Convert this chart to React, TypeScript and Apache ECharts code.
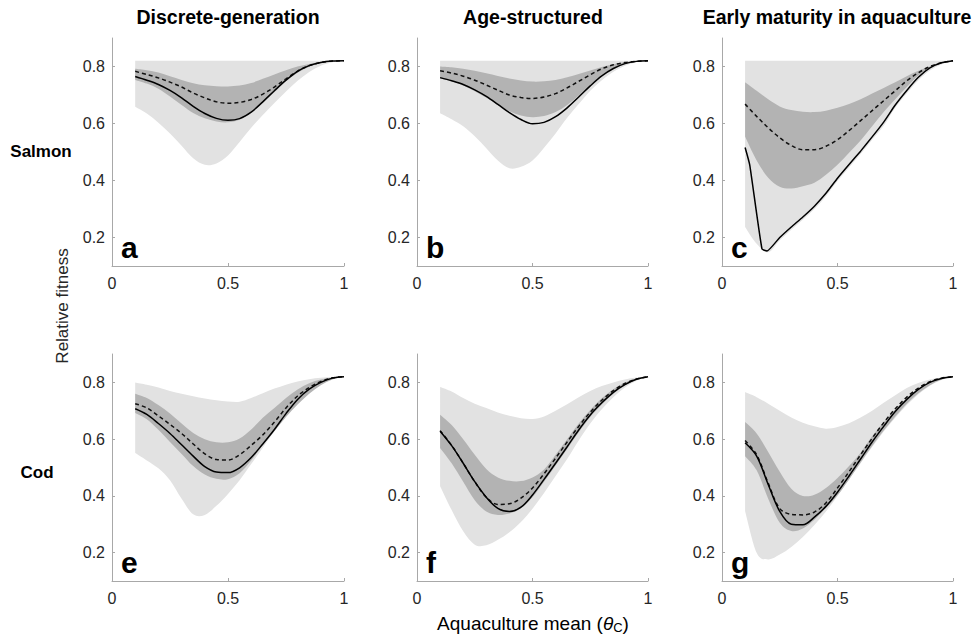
import React, { useEffect, useRef } from "react";
import * as echarts from "echarts";

// ---------- data ----------
const X = [0.1, 0.15, 0.2, 0.25, 0.3, 0.35, 0.4, 0.45, 0.5, 0.55, 0.6, 0.65, 0.7, 0.75, 0.8, 0.85, 0.9, 0.95, 1.0];

const COL_TITLES = ["Discrete-generation", "Age-structured", "Early maturity in aquaculture"];
const ROW_TITLES = ["Salmon", "Cod"];
const Y_TICKS = [0.2, 0.4, 0.6, 0.8];
const Y_TITLE = "Relative fitness";

const FLAT = [0.82, 0.82, 0.82, 0.82, 0.82, 0.82, 0.82, 0.82, 0.82, 0.82, 0.82, 0.82, 0.82, 0.82, 0.82, 0.82, 0.82, 0.82, 0.82];

// panel a
const A_LIGHT_LO = [0.659, 0.635, 0.603, 0.565, 0.522, 0.478, 0.455, 0.46, 0.488, 0.535, 0.585, 0.63, 0.672, 0.712, 0.75, 0.781, 0.803, 0.815, 0.82];
const A_LIGHT_HI = FLAT;
const A_DARK_LO = [0.753, 0.74, 0.722, 0.695, 0.665, 0.637, 0.618, 0.607, 0.604, 0.613, 0.64, 0.675, 0.71, 0.748, 0.778, 0.799, 0.812, 0.818, 0.82];
const A_DARK_HI = [0.792, 0.787, 0.779, 0.766, 0.753, 0.741, 0.734, 0.731, 0.73, 0.733, 0.742, 0.757, 0.772, 0.787, 0.8, 0.809, 0.815, 0.818, 0.82];
const A_DASH = [0.783, 0.772, 0.76, 0.745, 0.728, 0.707, 0.69, 0.676, 0.671, 0.674, 0.684, 0.703, 0.728, 0.757, 0.784, 0.803, 0.814, 0.819, 0.82];
const A_SOLID = [0.765, 0.752, 0.737, 0.716, 0.69, 0.66, 0.635, 0.618, 0.611, 0.617, 0.64, 0.676, 0.715, 0.752, 0.783, 0.803, 0.814, 0.819, 0.82];

// panel b
const B_LIGHT_LO = [0.636, 0.615, 0.59, 0.555, 0.513, 0.47, 0.443, 0.448, 0.47, 0.515, 0.565, 0.62, 0.668, 0.715, 0.752, 0.782, 0.803, 0.815, 0.82];
const B_LIGHT_HI = FLAT;
const B_DARK_LO = [0.758, 0.748, 0.733, 0.713, 0.69, 0.665, 0.643, 0.628, 0.622, 0.626, 0.64, 0.665, 0.698, 0.735, 0.77, 0.795, 0.81, 0.818, 0.82];
const B_DARK_HI = [0.8, 0.797, 0.792, 0.785, 0.776, 0.767, 0.758, 0.751, 0.747, 0.748, 0.753, 0.762, 0.774, 0.786, 0.798, 0.808, 0.815, 0.818, 0.82];
const B_DASH = [0.785, 0.777, 0.766, 0.752, 0.735, 0.717, 0.7, 0.691, 0.688, 0.693, 0.705, 0.725, 0.748, 0.771, 0.792, 0.806, 0.814, 0.818, 0.82];
const B_SOLID = [0.761, 0.75, 0.737, 0.718, 0.695, 0.667, 0.638, 0.614, 0.599, 0.604, 0.624, 0.655, 0.693, 0.732, 0.767, 0.793, 0.81, 0.818, 0.82];

// panel c
const C_LIGHT_LO = [0.237, 0.178, 0.148, 0.19, 0.227, 0.262, 0.3, 0.345, 0.398, 0.446, 0.493, 0.543, 0.592, 0.655, 0.706, 0.752, 0.786, 0.807, 0.82];
const C_LIGHT_HI = FLAT;
const C_DARK_LO = [0.554, 0.47, 0.41, 0.378, 0.372, 0.38, 0.392, 0.42, 0.455, 0.497, 0.54, 0.59, 0.64, 0.685, 0.728, 0.768, 0.797, 0.814, 0.82];
const C_DARK_HI = [0.745, 0.715, 0.685, 0.66, 0.647, 0.641, 0.64, 0.645, 0.655, 0.668, 0.685, 0.705, 0.725, 0.745, 0.766, 0.785, 0.8, 0.812, 0.82];
const C_DASH = [0.668, 0.625, 0.585, 0.55, 0.523, 0.508, 0.508, 0.52, 0.543, 0.575, 0.61, 0.645, 0.68, 0.715, 0.75, 0.778, 0.8, 0.813, 0.82];
const C_SOLID_X = [0.1, 0.12, 0.173, 0.195, 0.25, 0.3, 0.35, 0.4, 0.45, 0.5, 0.55, 0.6, 0.65, 0.7, 0.75, 0.8, 0.85, 0.9, 0.95, 1.0];
const C_SOLID = [0.516, 0.455, 0.16, 0.153, 0.2, 0.237, 0.272, 0.31, 0.355, 0.408, 0.456, 0.503, 0.553, 0.605, 0.665, 0.716, 0.762, 0.795, 0.813, 0.82];

// panel e
const E_LIGHT_LO = [0.551, 0.525, 0.497, 0.455, 0.39, 0.335, 0.333, 0.365, 0.407, 0.455, 0.512, 0.57, 0.628, 0.68, 0.727, 0.765, 0.793, 0.812, 0.82];
const E_LIGHT_HI = [0.8, 0.792, 0.782, 0.77, 0.76, 0.751, 0.743, 0.737, 0.733, 0.732, 0.745, 0.762, 0.778, 0.792, 0.803, 0.811, 0.816, 0.819, 0.82];
const E_DARK_LO = [0.692, 0.67, 0.633, 0.59, 0.548, 0.505, 0.475, 0.46, 0.459, 0.48, 0.525, 0.578, 0.628, 0.678, 0.722, 0.76, 0.79, 0.81, 0.82];
const E_DARK_HI = [0.76, 0.745, 0.72, 0.69, 0.655, 0.622, 0.6, 0.589, 0.589, 0.602, 0.634, 0.675, 0.71, 0.745, 0.775, 0.797, 0.81, 0.817, 0.82];
const E_DASH = [0.725, 0.71, 0.682, 0.652, 0.62, 0.583, 0.548, 0.528, 0.526, 0.545, 0.578, 0.615, 0.66, 0.71, 0.752, 0.782, 0.803, 0.816, 0.82];
const E_SOLID = [0.707, 0.687, 0.655, 0.62, 0.58, 0.54, 0.503, 0.484, 0.482, 0.499, 0.535, 0.583, 0.634, 0.69, 0.74, 0.776, 0.8, 0.815, 0.82];

// panel f
const F_LIGHT_LO = [0.434, 0.35, 0.275, 0.228, 0.226, 0.245, 0.272, 0.308, 0.355, 0.41, 0.47, 0.53, 0.595, 0.655, 0.705, 0.748, 0.782, 0.806, 0.82];
const F_LIGHT_HI = [0.784, 0.768, 0.745, 0.725, 0.71, 0.694, 0.682, 0.674, 0.671, 0.68, 0.7, 0.723, 0.748, 0.77, 0.787, 0.8, 0.81, 0.817, 0.82];
const F_DARK_LO = [0.569, 0.515, 0.45, 0.385, 0.345, 0.333, 0.338, 0.356, 0.395, 0.45, 0.507, 0.565, 0.624, 0.678, 0.722, 0.76, 0.789, 0.81, 0.82];
const F_DARK_HI = [0.686, 0.65, 0.6, 0.545, 0.495, 0.465, 0.453, 0.452, 0.465, 0.493, 0.545, 0.6, 0.655, 0.703, 0.744, 0.776, 0.8, 0.814, 0.82];
const F_DASH = [0.63, 0.578, 0.515, 0.45, 0.395, 0.37, 0.372, 0.392, 0.428, 0.478, 0.533, 0.59, 0.645, 0.695, 0.737, 0.771, 0.796, 0.812, 0.82];
const F_SOLID = [0.628, 0.577, 0.515, 0.45, 0.395, 0.356, 0.345, 0.36, 0.403, 0.458, 0.515, 0.573, 0.632, 0.685, 0.728, 0.765, 0.792, 0.811, 0.82];

// panel g
const G_LIGHT_LO = [0.346, 0.2, 0.176, 0.193, 0.22, 0.255, 0.297, 0.345, 0.4, 0.458, 0.515, 0.572, 0.627, 0.675, 0.72, 0.758, 0.788, 0.808, 0.82];
const G_LIGHT_HI = [0.766, 0.748, 0.725, 0.7, 0.676, 0.658, 0.645, 0.637, 0.643, 0.656, 0.676, 0.7, 0.728, 0.755, 0.78, 0.798, 0.81, 0.817, 0.82];
const G_DARK_LO = [0.54, 0.49, 0.39, 0.305, 0.276, 0.285, 0.316, 0.357, 0.402, 0.458, 0.518, 0.576, 0.63, 0.68, 0.725, 0.762, 0.79, 0.81, 0.82];
const G_DARK_HI = [0.66, 0.62, 0.555, 0.485, 0.425, 0.4, 0.404, 0.428, 0.463, 0.505, 0.552, 0.61, 0.66, 0.705, 0.742, 0.773, 0.796, 0.812, 0.82];
const G_DASH = [0.595, 0.545, 0.445, 0.355, 0.335, 0.333, 0.343, 0.375, 0.428, 0.485, 0.545, 0.603, 0.658, 0.707, 0.748, 0.78, 0.802, 0.815, 0.82];
const G_SOLID = [0.587, 0.54, 0.44, 0.345, 0.3, 0.298, 0.325, 0.363, 0.413, 0.47, 0.53, 0.59, 0.645, 0.697, 0.74, 0.775, 0.8, 0.814, 0.82];

const PANELS = [
  { letter: "a", row: 0, col: 0, lightLo: A_LIGHT_LO, lightHi: A_LIGHT_HI, darkLo: A_DARK_LO, darkHi: A_DARK_HI, dash: A_DASH, solidX: X, solid: A_SOLID },
  { letter: "b", row: 0, col: 1, lightLo: B_LIGHT_LO, lightHi: B_LIGHT_HI, darkLo: B_DARK_LO, darkHi: B_DARK_HI, dash: B_DASH, solidX: X, solid: B_SOLID },
  { letter: "c", row: 0, col: 2, lightLo: C_LIGHT_LO, lightHi: C_LIGHT_HI, darkLo: C_DARK_LO, darkHi: C_DARK_HI, dash: C_DASH, solidX: C_SOLID_X, solid: C_SOLID },
  { letter: "e", row: 1, col: 0, lightLo: E_LIGHT_LO, lightHi: E_LIGHT_HI, darkLo: E_DARK_LO, darkHi: E_DARK_HI, dash: E_DASH, solidX: X, solid: E_SOLID },
  { letter: "f", row: 1, col: 1, lightLo: F_LIGHT_LO, lightHi: F_LIGHT_HI, darkLo: F_DARK_LO, darkHi: F_DARK_HI, dash: F_DASH, solidX: X, solid: F_SOLID },
  { letter: "g", row: 1, col: 2, lightLo: G_LIGHT_LO, lightHi: G_LIGHT_HI, darkLo: G_DARK_LO, darkHi: G_DARK_HI, dash: G_DASH, solidX: X, solid: G_SOLID },
];

// ---------- layout / style ----------
const COL_LEFT = [112, 417, 722];
const COL_W = [232, 231, 231];
const ROW_TOP = [38, 354];
const ROW_H = [228, 227];
const FONT = "'Liberation Sans', Arial, Helvetica, sans-serif";
const LIGHT = "#e2e2e2";
const DARK = "#b3b3b3";
const AXIS = "#a8a8a8";
const TXT = "#262626";
const LINE_SMOOTH = 0.33;
const T = 1 / 6; // curve tension used for band outlines (Catmull-Rom)

const pair = (xs: number[], ys: number[]) => xs.map((x, k) => [x, ys[k]]);

// cubic segments through pixel points (drawing-level smoothing only)
function curveThrough(pts: number[][]): string {
  let d = "";
  const n = pts.length;
  for (let i = 0; i < n - 1; i++) {
    const p0 = pts[i - 1] || pts[i];
    const p1 = pts[i];
    const p2 = pts[i + 1];
    const p3 = pts[i + 2] || pts[i + 1];
    const c1x = p1[0] + (p2[0] - p0[0]) * T;
    const c1y = p1[1] + (p2[1] - p0[1]) * T;
    const c2x = p2[0] - (p3[0] - p1[0]) * T;
    const c2y = p2[1] - (p3[1] - p1[1]) * T;
    d += ` C ${c1x.toFixed(2)} ${c1y.toFixed(2)} ${c2x.toFixed(2)} ${c2y.toFixed(2)} ${p2[0].toFixed(2)} ${p2[1].toFixed(2)}`;
  }
  return d;
}

function bandSeries(i: number, lo: number[], hi: number[], color: string) {
  return {
    type: "custom",
    coordinateSystem: "cartesian2d",
    xAxisIndex: i,
    yAxisIndex: i,
    silent: true,
    data: X.map((x, k) => [x, lo[k], hi[k]]),
    renderItem: (params: any, api: any) => {
      if (params.dataIndex !== 0) return null;
      const up = X.map((x, k) => api.coord([x, hi[k]]));
      const dn = X.map((x, k) => api.coord([x, lo[k]])).reverse();
      const d = `M ${up[0][0].toFixed(2)} ${up[0][1].toFixed(2)}` + curveThrough(up) +
        ` L ${dn[0][0].toFixed(2)} ${dn[0][1].toFixed(2)}` + curveThrough(dn) + " Z";
      return { type: "path", shape: { pathData: d }, style: { fill: color, stroke: null } };
    },
  };
}

function buildOption() {
  const grid: any[] = [];
  const xAxis: any[] = [];
  const yAxis: any[] = [];
  const series: any[] = [];
  const graphic: any[] = [];

  PANELS.forEach((p, i) => {
    const left = COL_LEFT[p.col];
    const top = ROW_TOP[p.row];
    const w = COL_W[p.col];
    const h = ROW_H[p.row];
    grid.push({ left, top, width: w, height: h, containLabel: false });
    xAxis.push({
      type: "value", gridIndex: i, min: 0, max: 1, interval: 0.5, z: 10,
      axisLine: { show: true, onZero: false, lineStyle: { color: AXIS, width: 1 } },
      axisTick: { show: true, inside: true, length: 3, lineStyle: { color: AXIS } },
      splitLine: { show: false },
      axisLabel: { color: TXT, fontSize: 16, fontFamily: FONT, margin: 9 },
    });
    yAxis.push({
      type: "value", gridIndex: i, min: 0.1, max: 0.9, z: 10,
      axisLine: { show: true, onZero: false, lineStyle: { color: AXIS, width: 1 } },
      axisTick: { show: true, inside: true, length: 3, lineStyle: { color: AXIS }, customValues: Y_TICKS },
      splitLine: { show: false },
      axisLabel: { color: TXT, fontSize: 16, fontFamily: FONT, margin: 7, customValues: Y_TICKS, formatter: (v: number) => v.toFixed(1) },
    });
    series.push(bandSeries(i, p.lightLo, p.lightHi, LIGHT));
    series.push(bandSeries(i, p.darkLo, p.darkHi, DARK));
    const common = { xAxisIndex: i, yAxisIndex: i, symbol: "none", silent: true, smooth: LINE_SMOOTH };
    series.push({ ...common, type: "line", data: pair(X, p.dash), lineStyle: { color: "#111", width: 1.5, type: [4, 3] } });
    series.push({ ...common, type: "line", smooth: p.solidX === X ? LINE_SMOOTH : 0.15, data: pair(p.solidX, p.solid), lineStyle: { color: "#000", width: 1.5 } });

    graphic.push({
      type: "text", x: left + 9, y: top + h - 19, z: 100,
      style: { text: p.letter, font: `bold 30px ${FONT}`, fill: "#000", textAlign: "left", textVerticalAlign: "middle" },
    });
  });

  const titleX = [228, 533, 837];
  COL_TITLES.forEach((t, c) => {
    graphic.push({ type: "text", x: titleX[c], y: 17, z: 100, style: { text: t, font: `bold 19.5px ${FONT}`, fill: "#000", textAlign: "center", textVerticalAlign: "middle" } });
  });
  const rowX = [41, 37];
  const rowY = [151, 472];
  ROW_TITLES.forEach((t, r) => {
    graphic.push({ type: "text", x: rowX[r], y: rowY[r], z: 100, style: { text: t, font: `bold 17px ${FONT}`, fill: "#000", textAlign: "center", textVerticalAlign: "middle" } });
  });
  graphic.push({
    type: "text", x: 62, y: 306, rotation: Math.PI / 2, z: 100,
    style: { text: Y_TITLE, font: `17px ${FONT}`, fill: TXT, textAlign: "center", textVerticalAlign: "middle" },
  });
  graphic.push({
    type: "text", x: 533, y: 623, z: 100,
    style: {
      text: "{n|Aquaculture mean (}{t|θ}{s|C}{n|)}",
      textAlign: "center", textVerticalAlign: "middle",
      rich: {
        n: { fontSize: 19, fontFamily: FONT, color: TXT, lineHeight: 20 },
        t: { fontSize: 19, fontFamily: FONT, color: TXT, fontStyle: "italic", lineHeight: 20 },
        s: { fontSize: 13, fontFamily: FONT, color: TXT, lineHeight: 12, padding: [8, 0, 0, 0] },
      },
    },
  });

  return { animation: false, backgroundColor: "#fff", grid, xAxis, yAxis, series, graphic };
}

export default function App() {
  const ref = useRef<HTMLDivElement>(null);
  useEffect(() => {
    if (!ref.current) return;
    const chart = echarts.init(ref.current, null, { renderer: "svg" });
    chart.setOption(buildOption() as any);
    return () => chart.dispose();
  }, []);
  return <div ref={ref} style={{ position: "absolute", left: 0, top: 0, width: 973, height: 637 }} />;
}
